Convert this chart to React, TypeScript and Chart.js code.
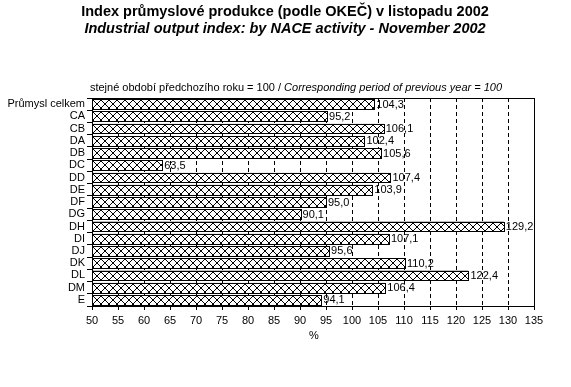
import React, { useEffect, useRef } from "react";
import { Chart, registerables } from "chart.js";
Chart.register(...registerables);

const categories = ["Průmysl celkem", "CA", "CB", "DA", "DB", "DC", "DD", "DE", "DF", "DG", "DH", "DI", "DJ", "DK", "DL", "DM", "E"];
const values = [104.3, 95.2, 106.1, 102.4, 105.6, 63.5, 107.4, 103.9, 95.0, 90.1, 129.2, 107.1, 95.6, 110.2, 122.4, 106.4, 94.1];
const xMin = 50;
const xMax = 135;
const xStep = 5;
const titleText = "Index průmyslové produkce (podle OKEČ) v listopadu 2002";
const subtitleText = "Industrial output index: by NACE activity - November 2002";
const noteCz = "stejné období předchozího roku = 100 / ";
const noteEn = "Corresponding period of previous year = 100";
const axisUnit = "%";

const FONT = "'Liberation Sans', Arial, sans-serif";

function makePattern(): CanvasPattern | null {
  const c = document.createElement("canvas");
  c.width = 8;
  c.height = 8;
  const g = c.getContext("2d");
  if (!g) return null;
  g.fillStyle = "#fff";
  g.fillRect(0, 0, 8, 8);
  g.fillStyle = "#000";
  for (let i = 0; i < 8; i++) {
    g.fillRect(i, i, 1, 1);
    g.fillRect(7 - i, i, 1, 1);
  }
  return g.createPattern(c, "repeat");
}

let hatch: CanvasPattern | null = null;

const hatchPlugin = {
  id: "hatch",
  afterDatasetsDraw(chart: any) {
    const { ctx, chartArea } = chart;
    if (!hatch) hatch = makePattern();
    if (!hatch) return;
    const meta = chart.getDatasetMeta(0);
    ctx.save();
    meta.data.forEach((bar: any) => {
      const l = Math.round(Math.max(chartArea.left, Math.min(bar.base, bar.x)));
      const r = Math.round(Math.max(bar.base, bar.x));
      const t = Math.round(bar.y - bar.height / 2);
      const b = Math.round(bar.y + bar.height / 2);
      hatch!.setTransform(new DOMMatrix().translate(l + 1, t + 1));
      ctx.fillStyle = hatch;
      ctx.fillRect(l + 1, t + 1, r - l - 1, b - t - 1);
      ctx.strokeStyle = "#000";
      ctx.lineWidth = 1;
      ctx.strokeRect(l + 0.5, t + 0.5, r - l, b - t);
    });
    ctx.restore();
  },
};

const decor = {
  id: "decor",
  afterDraw(chart: any) {
    const { ctx, chartArea } = chart;
    const { left, right, top, bottom } = chartArea;
    ctx.save();
    ctx.strokeStyle = "#000";
    ctx.lineWidth = 1;
    ctx.beginPath();
    ctx.moveTo(left, Math.round(top) + 0.5);
    ctx.lineTo(Math.round(right) + 1, Math.round(top) + 0.5);
    ctx.moveTo(Math.round(right) + 0.5, top);
    ctx.lineTo(Math.round(right) + 0.5, bottom);
    ctx.stroke();

    const meta = chart.getDatasetMeta(0);
    ctx.fillStyle = "#000";
    ctx.font = `11px ${FONT}`;
    ctx.textBaseline = "middle";
    ctx.textAlign = "left";
    meta.data.forEach((bar: any, i: number) => {
      ctx.fillText(values[i].toFixed(1).replace(".", ","), bar.x + 2, bar.y + 0.5);
    });

    ctx.textAlign = "center";
    ctx.font = `bold 14.5px ${FONT}`;
    ctx.fillText(titleText, 285, 12);
    ctx.font = `italic bold 14.5px ${FONT}`;
    ctx.fillText(subtitleText, 285, 28.5);

    ctx.font = `11px ${FONT}`;
    const w1 = ctx.measureText(noteCz).width;
    ctx.font = `italic 11px ${FONT}`;
    const w2 = ctx.measureText(noteEn).width;
    const x0 = 296 - (w1 + w2) / 2;
    ctx.textAlign = "left";
    ctx.font = `11px ${FONT}`;
    ctx.fillText(noteCz, x0, 88);
    ctx.font = `italic 11px ${FONT}`;
    ctx.fillText(noteEn, x0 + w1, 88);

    ctx.textAlign = "center";
    ctx.font = `11px ${FONT}`;
    ctx.fillText(axisUnit, 314, 336);
    ctx.restore();
  },
};

export default function App() {
  const ref = useRef<HTMLCanvasElement>(null);
  useEffect(() => {
    if (!ref.current) return;
    const chart = new Chart(ref.current, {
      type: "bar",
      data: {
        labels: categories,
        datasets: [
          {
            data: values,
            backgroundColor: "#fff",
            borderColor: "#000",
            borderWidth: 1,
            borderSkipped: false,
            barPercentage: 0.8,
            categoryPercentage: 1,
          },
        ],
      },
      options: {
        indexAxis: "y",
        responsive: false,
        animation: false,
        layout: { padding: { top: 98, right: 37, left: 0, bottom: 0 } },
        plugins: {
          legend: { display: false },
          tooltip: { enabled: false },
          title: { display: false },
        },
        scales: {
          x: {
            type: "linear",
            min: xMin,
            max: xMax,
            ticks: {
              stepSize: xStep,
              color: "#000",
              font: { family: FONT, size: 11 },
              padding: 4,
              maxRotation: 0,
              autoSkip: false,
            },
            grid: { color: "#000", lineWidth: 1, tickLength: 4, tickColor: "#000", tickBorderDash: [] },
            border: { display: true, color: "#000", dash: [4, 3] },
            afterFit(s: any) {
              s.height = 81;
            },
          },
          y: {
            ticks: { color: "#000", font: { family: FONT, size: 11 }, padding: 2, autoSkip: false },
            grid: { drawOnChartArea: false, tickLength: 5, color: "#000", offset: true },
            border: { display: true, color: "#000" },
            afterFit(s: any) {
              s.width = 92;
            },
          },
        },
      },
      plugins: [hatchPlugin, decor],
    });
    return () => chart.destroy();
  }, []);
  return (
    <div style={{ position: "fixed", left: 0, top: 0, width: 571, height: 387, background: "#fff" }}>
      <canvas ref={ref} width={571} height={387} style={{ display: "block" }} />
    </div>
  );
}
